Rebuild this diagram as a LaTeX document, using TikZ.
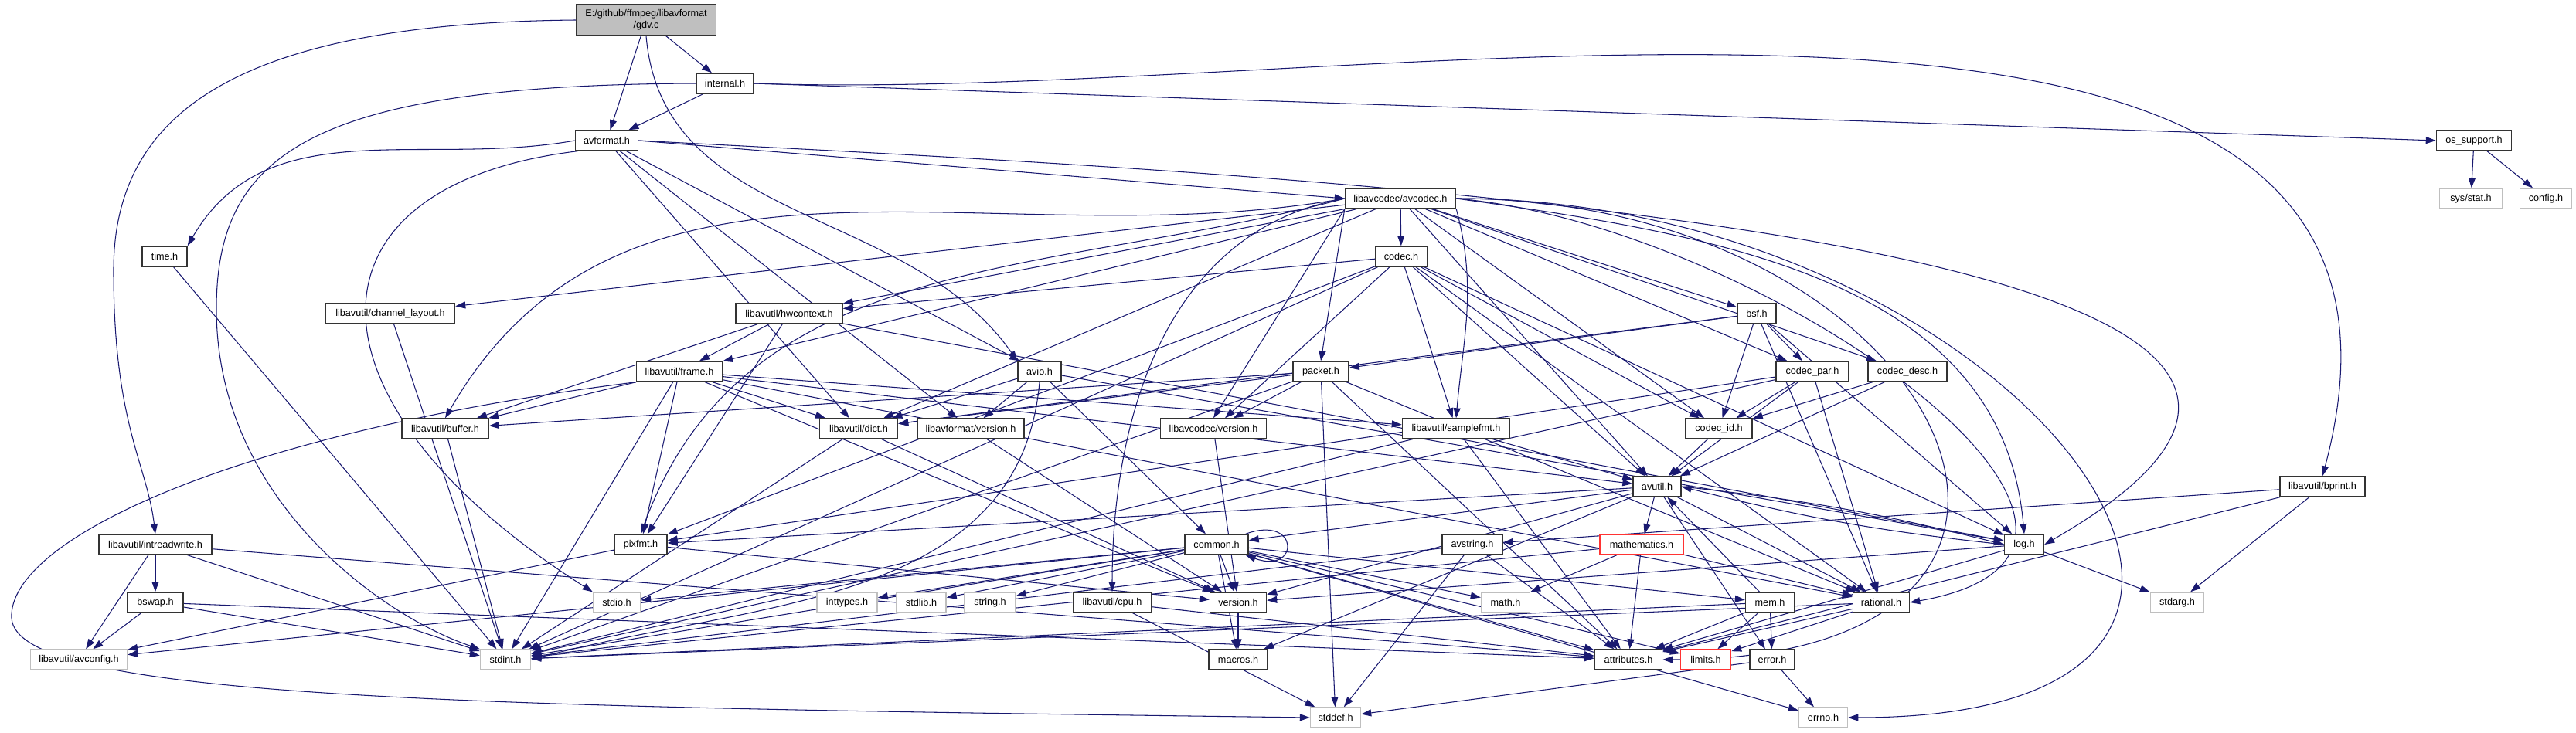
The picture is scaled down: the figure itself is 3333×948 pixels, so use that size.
\documentclass[tikz,border=0pt]{standalone}
\usepackage{fontspec}
\setmainfont{Liberation Sans}
\usepackage{tikz}
\usetikzlibrary{arrows.meta, backgrounds}
\definecolor{edgeblue}{HTML}{191970}
\newcommand{\hfont}{\fontsize{3.6}{4.3}\selectfont}

\begin{document}
\begin{tikzpicture}[x=0.01cm, y=-0.01cm,
    hdr/.style={draw=black!80, fill=white, line width=0.4pt, minimum height=0.26cm, inner sep=0pt, font=\hfont},
    sysh/.style={hdr, draw=black!25},
    cuth/.style={hdr, draw=red!80},
    dep/.style={draw=edgeblue, line width=0.3pt, -{Triangle[length=0.13cm, width=0.09cm]}}]
  \useasboundingbox (0,0) rectangle (3333,948);
  % files, row by row
  \node[hdr, fill=black!25, minimum width=1.81cm, minimum height=0.40cm, align=center] (gdv) at (836,26) {E:/github/ffmpeg/libavformat\\/gdv.c};
  \node[hdr, minimum width=0.74cm] (internal) at (938,108) {internal.h};
  \node[hdr, minimum width=0.81cm] (avformat) at (785,182) {avformat.h};
  \node[hdr, minimum width=0.97cm] (ossupport) at (3201,182) {os\_support.h};
  \node[hdr, minimum width=1.43cm] (avcodec) at (1812,257) {libavcodec/avcodec.h};
  \node[sysh, minimum width=0.81cm] (sysstat) at (3197,257) {sys/stat.h};
  \node[sysh, minimum width=0.67cm] (config) at (3294,257) {config.h};
  \node[hdr, minimum width=0.58cm] (time) at (213,332) {time.h};
  \node[hdr, minimum width=0.67cm] (codec) at (1813,332) {codec.h};
  \node[hdr, minimum width=1.67cm] (chlayout) at (505,406) {libavutil/channel\_layout.h};
  \node[hdr, minimum width=1.38cm] (hwctx) at (1021,406) {libavutil/hwcontext.h};
  \node[hdr, minimum width=0.50cm] (bsf) at (2273,406) {bsf.h};
  \node[hdr, minimum width=1.11cm] (frame) at (879,481) {libavutil/frame.h};
  \node[hdr, minimum width=0.56cm] (avio) at (1345,481) {avio.h};
  \node[hdr, minimum width=0.72cm] (packet) at (1709,481) {packet.h};
  \node[hdr, minimum width=0.94cm] (codecpar) at (2345,481) {codec\_par.h};
  \node[hdr, minimum width=1.02cm] (codecdesc) at (2468,481) {codec\_desc.h};
  \node[hdr, minimum width=1.12cm] (buffer) at (576,555) {libavutil/buffer.h};
  \node[hdr, minimum width=1.01cm] (dict) at (1111,555) {libavutil/dict.h};
  \node[hdr, minimum width=1.38cm] (lavfver) at (1256,555) {libavformat/version.h};
  \node[hdr, minimum width=1.37cm] (lavcver) at (1570,555) {libavcodec/version.h};
  \node[hdr, minimum width=1.39cm] (samplefmt) at (1884,555) {libavutil/samplefmt.h};
  \node[hdr, minimum width=0.86cm] (codecid) at (2224,555) {codec\_id.h};
  \node[hdr, minimum width=0.62cm] (avutil) at (2144,630) {avutil.h};
  \node[hdr, minimum width=1.10cm] (bprint) at (3005,630) {libavutil/bprint.h};
  \node[hdr, minimum width=1.46cm] (intrw) at (201,705) {libavutil/intreadwrite.h};
  \node[hdr, minimum width=0.68cm] (pixfmt) at (829,705) {pixfmt.h};
  \node[hdr, minimum width=0.82cm] (common) at (1574,705) {common.h};
  \node[hdr, minimum width=0.78cm] (avstring) at (1905,705) {avstring.h};
  \node[cuth, minimum width=1.08cm] (mathem) at (2124,705) {mathematics.h};
  \node[hdr, minimum width=0.51cm] (log) at (2619,705) {log.h};
  \node[hdr, minimum width=0.72cm] (bswap) at (201,780) {bswap.h};
  \node[sysh, minimum width=0.61cm] (stdio) at (798,780) {stdio.h};
  \node[sysh, minimum width=0.78cm] (inttypes) at (1096,780) {inttypes.h};
  \node[sysh, minimum width=0.64cm] (stdlib) at (1192,780) {stdlib.h};
  \node[sysh, minimum width=0.66cm] (string) at (1281,780) {string.h};
  \node[hdr, minimum width=1.01cm] (cpu) at (1439,780) {libavutil/cpu.h};
  \node[hdr, minimum width=0.73cm] (version) at (1602,780) {version.h};
  \node[sysh, minimum width=0.63cm] (math) at (1948,780) {math.h};
  \node[hdr, minimum width=0.63cm] (mem) at (2290,780) {mem.h};
  \node[hdr, minimum width=0.73cm] (rational) at (2434,780) {rational.h};
  \node[sysh, minimum width=0.69cm] (stdarg) at (2817,780) {stdarg.h};
  \node[sysh, minimum width=1.25cm] (avconfig) at (102,854) {libavutil/avconfig.h};
  \node[sysh, minimum width=0.65cm] (stdint) at (654,854) {stdint.h};
  \node[hdr, minimum width=0.76cm] (macros) at (1602,854) {macros.h};
  \node[hdr, minimum width=0.87cm] (attributes) at (2107,854) {attributes.h};
  \node[cuth, minimum width=0.65cm] (limits) at (2207,854) {limits.h};
  \node[hdr, minimum width=0.58cm] (error) at (2293,854) {error.h};
  \node[sysh, minimum width=0.65cm] (stddef) at (1728,929) {stddef.h};
  \node[sysh, minimum width=0.63cm] (errno) at (2359,929) {errno.h};

  % includes
  \begin{scope}[on background layer]
    \draw[dep] (gdv.west) .. controls (300,30) and (147,150) .. (147,350) .. controls (147,550) and (190,600) .. (intrw.north);
    \draw[dep] (gdv.south) to[out=-85, in=125] (avio.north west);
    \foreach \dst in {avformat, internal} \draw[dep] (gdv) -- (\dst);

    \draw[dep] (internal) -- (avformat);
    \draw[dep] (internal.east) -- (ossupport.west);
    \draw[dep] (internal.east) to[out=-2, in=75] (bprint.north);
    \draw[dep] (internal.west) .. controls (400,110) and (280,200) .. (280,400) .. controls (280,650) and (500,800) .. (stdint.north west);

    \draw[dep] (avformat.west) to[out=190, in=60] (time.north east);
    \draw[dep] (avformat.200) .. controls (380,240) and (380,520) .. (stdio.north west);
    \draw[dep] (avformat.east) -- (avcodec.west);
    \draw[dep] (avformat.east) to[out=-3, in=30, looseness=1.1] (log.east);
    \foreach \dst in {dict, lavfver, avio} \draw[dep] (avformat) -- (\dst);

    \foreach \dst in {common, dict, log, lavfver} \draw[dep] (avio) -- (\dst);
    \draw[dep] (avio.south) to[out=-95, in=15] (stdint.east);

    \foreach \dst in {chlayout, hwctx, frame, dict, codec, avutil, codecid, bsf, codecpar, codecdesc} \draw[dep] (avcodec) -- (\dst);
    \draw[dep] (avcodec.west) to[out=190, in=60] (buffer.north);
    \draw[dep] (avcodec.west) to[out=195, in=70] (pixfmt.north);
    \draw[dep] (avcodec.west) to[out=190, in=90] (cpu.north);
    \draw[dep] (avcodec.south west) -- (packet.north);
    \draw[dep] (avcodec.south west) -- (lavcver.north);
    \draw[dep] (avcodec.south east) to[out=-75, in=85] (samplefmt.north);
    \draw[dep] (avcodec.east) to[out=-8, in=95] (log.north);
    \draw[dep] (avcodec.east) to[out=-5, in=10, looseness=1.3] (rational.east);
    \draw[dep] (avcodec.east) to[out=0, in=0, looseness=2.5] (attributes.east);
    \draw[dep] (avcodec.east) to[out=0, in=0, looseness=2.2] (errno.east);

    \foreach \dst in {hwctx, pixfmt, samplefmt, avutil, codecid, log, rational, lavcver, stdint} \draw[dep] (codec) -- (\dst);
    \foreach \dst in {packet, codecid, codecpar, log, rational, dict} \draw[dep] (bsf) -- (\dst);
    \foreach \dst in {codecid, avutil, rational, pixfmt, stdint} \draw[dep] (codecpar) -- (\dst);
    \foreach \dst in {codecid, avutil} \draw[dep] (codecdesc) -- (\dst);
    \draw[dep] (codecid) -- (avutil);
    \foreach \dst in {buffer, dict, lavcver, stddef, stdint, attributes, rational} \draw[dep] (packet) -- (\dst);
    \draw[dep] (lavcver) -- (version);
    \draw[dep] (lavfver) -- (version);
    \foreach \dst in {avutil, attributes, stdint} \draw[dep] (samplefmt) -- (\dst);

    \foreach \dst in {buffer, dict, pixfmt, stdint, avutil, rational, samplefmt, version} \draw[dep] (frame) -- (\dst);
    \draw[dep] (frame.south west) .. controls (300,560) and (10,700) .. (15,800) .. controls (20,905) and (600,915) .. (stddef.west);
    \foreach \dst in {frame, buffer, log, pixfmt} \draw[dep] (hwctx) -- (\dst);
    \foreach \src in {buffer, chlayout, time} \draw[dep] (\src) -- (stdint);
    \foreach \dst in {stdint, version} \draw[dep] (dict) -- (\dst);

    \foreach \dst in {mathem, common, error, rational, version, macros, pixfmt} \draw[dep] (avutil) -- (\dst);
    \draw[dep] (avutil.east) to[bend left=4] (log.west);
    \foreach \dst in {errno, inttypes, limits, math, stdint, stdio, stdlib, string, attributes, macros, version, avconfig, mem} \draw[dep] (common) -- (\dst);
    \draw[dep] (common.20) to[out=20, in=-20, looseness=7] (common.-20);
    \foreach \dst in {errno, stddef} \draw[dep] (error) -- (\dst);
    \foreach \dst in {limits, stdint, attributes, error, avutil} \draw[dep] (mem) -- (\dst);
    \foreach \dst in {stdint, limits, attributes} \draw[dep] (rational) -- (\dst);
    \foreach \dst in {stdarg, attributes, version} \draw[dep] (log) -- (\dst);
    \draw[dep] (log.west) to[bend left=4] (avutil.east);
    \foreach \dst in {avconfig, version} \draw[dep] (pixfmt) -- (\dst);
    \foreach \dst in {stddef, stdint, attributes} \draw[dep] (avstring) -- (\dst);
    \foreach \dst in {avstring, stdarg, attributes} \draw[dep] (bprint) -- (\dst);
    \foreach \dst in {stdint, avconfig, attributes, bswap} \draw[dep] (intrw) -- (\dst);
    \foreach \dst in {stdint, avconfig, attributes} \draw[dep] (bswap) -- (\dst);
    \foreach \dst in {stddef, attributes} \draw[dep] (cpu) -- (\dst);
    \draw[dep] (version) -- (macros);
    \foreach \dst in {stdint, math, attributes, rational} \draw[dep] (mathem) -- (\dst);
    \foreach \dst in {sysstat, config} \draw[dep] (ossupport) -- (\dst);
  \end{scope}
\end{tikzpicture}
\end{document}
